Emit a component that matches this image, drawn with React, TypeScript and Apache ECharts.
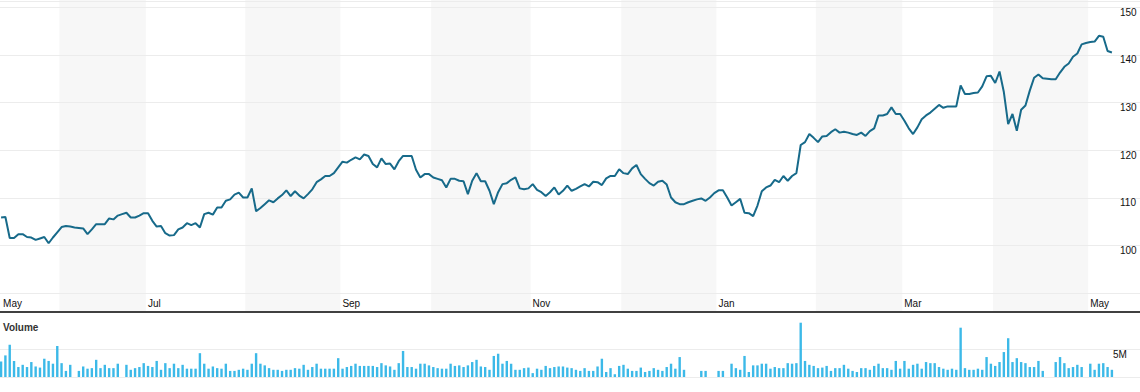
import React, { useEffect, useRef } from "react";
import * as echarts from "echarts";

// Daily closing prices (one value per trading day)
const prices: number[] = [
  105.9, 106.0, 101.6, 101.6, 102.4, 102.4, 101.8, 101.7, 101.2, 101.5,
  101.8, 100.5, 101.7, 102.8, 103.9, 104.1, 104.0, 103.8, 103.7, 103.6,
  102.4, 103.4, 104.5, 104.5, 104.5, 105.7, 105.5, 106.3, 106.6, 106.9,
  105.9, 105.9, 106.3, 106.8, 106.8, 105.2, 104.0, 104.1, 102.6, 102.1,
  102.2, 103.4, 103.8, 104.7, 104.3, 104.7, 103.8, 106.6, 106.9, 106.5,
  108.0, 108.0, 109.4, 109.7, 110.7, 111.1, 110.1, 110.1, 112.0, 107.2,
  107.9, 108.7, 109.5, 109.1, 109.9, 110.6, 111.6, 110.4, 111.4, 110.5,
  109.9, 110.8, 111.8, 113.3, 113.9, 114.6, 114.6, 115.2, 116.4, 117.6,
  117.4, 118.0, 118.5, 118.1, 119.1, 118.8, 117.1, 116.4, 118.3, 117.1,
  117.2, 116.0, 117.7, 118.8, 118.8, 118.8, 115.9, 114.3, 115.0, 115.0,
  114.3, 114.0, 113.7, 112.2, 114.0, 114.0, 113.6, 113.5, 110.8, 113.6,
  115.2, 113.5, 113.5, 111.5, 108.7, 111.2, 112.9, 113.1, 113.8, 114.3,
  112.0, 111.8, 112.0, 112.9, 111.7, 111.2, 110.4, 111.2, 112.2, 110.7,
  111.5, 112.6, 111.5, 111.9, 112.4, 112.9, 112.4, 113.4, 113.3, 112.7,
  114.1, 114.6, 114.6, 116.0, 115.2, 115.0, 116.2, 116.9, 115.0, 114.0,
  113.1, 112.6, 113.4, 113.6, 112.8, 110.1, 109.1, 108.7, 108.7, 109.1,
  109.4, 109.7, 109.9, 109.4, 110.1, 111.0, 111.6, 111.6, 110.1, 108.4,
  109.1, 109.8, 106.9, 106.8, 106.2, 108.4, 111.4, 112.2, 112.6, 113.8,
  113.3, 114.6, 113.6, 114.6, 115.2, 121.1, 121.7, 123.4, 122.6, 121.7,
  122.9, 123.0, 123.8, 124.4, 123.7, 123.9, 123.7, 123.4, 123.2, 123.7,
  123.0, 124.0, 124.6, 127.3, 127.3, 127.6, 129.0, 127.6, 127.6, 126.2,
  124.6, 123.4, 124.8, 126.5, 127.3, 127.9, 128.7, 129.5, 128.9, 129.2,
  129.2, 129.2, 133.6, 131.8, 131.8, 132.0, 132.1, 133.4, 135.5, 135.6,
  134.1, 136.5, 132.2, 125.5, 127.6, 124.1, 128.5, 129.4, 132.5, 135.2,
  135.9, 135.1, 135.0, 134.9, 134.9, 136.3, 137.5, 138.2, 139.6, 140.3,
  142.2, 142.5, 142.7, 142.8, 144.0, 143.8, 140.8, 140.5,
];

// Daily volume in millions (null = no volume reported)
const volumes: (number | null)[] = [
  2.8, 3.9, 5.8, 2.9, 1.8, 2.2, 1.8, 2.7, 1.9, 1.7,
  3.3, 2.9, 2.4, 5.6, 2.5, 1.1, 2.2, null, 1.1, 1.9,
  1.5, 1.6, 3.1, 1.6, 2.2, 1.6, 1.6, 2.4, null, 2.2,
  1.3, 1.6, 1.8, 2.5, 2.0, 1.8, 2.9, 1.3, 2.5, 1.6,
  2.4, 1.6, 2.2, 1.5, 1.5, 1.5, 4.3, 2.4, 1.5, 1.9,
  1.6, 1.5, 2.4, 1.1, 1.1, 1.3, 1.5, 1.3, 2.4, 4.3,
  2.4, 2.1, 1.6, 1.3, 1.3, 1.1, 1.3, 1.3, 1.6, 1.5,
  2.2, 1.3, 1.8, 2.4, 1.5, 1.5, 1.5, 1.5, 3.4, 1.5,
  1.8, 2.0, 2.4, 2.0, 2.0, 2.0, 2.0, 1.8, 2.5, 2.1,
  1.9, 1.3, 2.5, 4.7, 1.8, 1.8, 1.5, 2.4, 2.4, 2.1,
  1.8, 1.6, 1.5, 1.5, 2.4, 2.0, 2.1, 1.8, 2.1, 2.7,
  3.1, 1.9, 1.8, 1.3, 3.8, 4.2, 2.4, 2.9, 2.4, 1.3,
  1.3, 1.6, 1.7, 0.7, 1.5, 1.3, 2.0, 1.6, 1.8, 1.9,
  1.9, 1.7, 1.6, 1.3, 1.1, 1.6, 1.1, 1.1, 1.9, 3.3,
  0.9, 1.6, 0.5, 2.0, 2.2, 1.5, 1.1, 1.1, 1.7, 0.9,
  1.1, 1.6, 1.3, 1.1, 1.8, 2.4, 1.5, 3.6, 1.3, null,
  null, null, 1.1, 1.1, null, null, 1.1, 1.1, null, 2.4,
  1.6, 1.3, 3.8, 0.9, 2.1, 2.1, 2.4, 2.4, 1.5, 1.8,
  1.6, 1.6, 2.5, 2.4, 2.5, 9.8, 2.9, 2.2, 2.0, 1.6,
  1.7, 2.0, 1.1, 1.6, 1.6, 2.2, 1.5, 1.1, 0.9, 1.6,
  1.6, 1.3, 2.0, 2.4, 1.6, 1.6, 1.3, 2.9, 1.5, 2.9,
  1.5, 2.2, 2.4, 1.5, 2.7, 2.5, 2.5, 1.8, 1.5, 1.3,
  1.5, 1.3, 8.9, 1.6, 1.3, 1.3, 1.5, 1.3, 3.6, 2.4,
  2.0, 2.7, 4.5, 7.0, 2.7, 3.4, 2.7, 2.5, 1.8, 1.8,
  2.9, 1.1, null, null, 2.7, 3.6, 2.5, 1.6, 1.8, 2.2,
  1.8, null, 2.4, 1.3, 2.4, 2.5, 1.8, 1.3,
];

// Month starts (index of first trading day of each month)
const firstMonthName = "May";
const monthNames = ["Jun", "Jul", "Aug", "Sep", "Oct", "Nov", "Dec", "Jan", "Feb", "Mar", "Apr", "May"];
const monthStarts = [14, 34, 57, 79, 100, 123, 144, 166, 189, 209, 230, 252];

// Axis settings
const priceMin = 90;
const priceMax = 151.3;
const priceStep = 10;
const volumeMax = 10;
const volumeStep = 5;
const volumeLabelValue = 5;

const FONT = "'Liberation Sans', Arial, sans-serif";

export default function App() {
  const ref = useRef<HTMLDivElement>(null);

  useEffect(() => {
    if (!ref.current) return;
    const chart = echarts.init(ref.current, null, { renderer: "svg" });

    const boundaries = monthStarts.map((s) => s - 0.5);
    // Labels: first data point, then every other month (Jul, Sep, ...)
    const labelVals: number[] = [0];
    const labelNames: string[] = [firstMonthName];
    monthNames.forEach((n, k) => {
      if (k % 2 === 1) {
        labelVals.push(boundaries[k]);
        labelNames.push(n);
      }
    });
    // Shaded bands: Jun, Aug, Oct, Dec, Feb, Apr
    const bands: number[][] = [];
    for (let k = 0; k + 1 < boundaries.length; k += 2) {
      bands.push([boundaries[k], boundaries[k + 1]]);
    }

    const xMin = -0.25;
    const xMax = 263.5;

    const option: any = {
      animation: false,
      title: {
        text: "Volume",
        left: 3,
        top: 322,
        padding: 0,
        textStyle: { fontSize: 10, fontWeight: "bold", color: "#333", fontFamily: FONT },
      },
      grid: [
        { left: 0, right: 0, top: 1, height: 292.3 },
        { left: 0, right: 0, top: 321.6, height: 55.4 },
        { left: 0, right: 0, top: 0, height: 311 },
      ],
      xAxis: [
        {
          type: "value",
          gridIndex: 0,
          min: xMin,
          max: xMax,
          axisLine: { show: false },
          axisTick: { show: false },
          splitLine: { show: false },
          axisLabel: {
            customValues: labelVals,
            formatter: (v: number) => {
              const idx = labelVals.findIndex((x) => Math.abs(x - v) < 0.01);
              return idx >= 0 ? labelNames[idx] : "";
            },
            align: "left",
            margin: 5,
            padding: [0, 0, 0, 2],
            fontSize: 10,
            color: "#111",
            fontFamily: FONT,
          },
        },
        { type: "value", gridIndex: 1, min: xMin, max: xMax, show: false },
        { type: "value", gridIndex: 2, min: xMin, max: xMax, show: false },
      ],
      yAxis: [
        {
          type: "value",
          gridIndex: 0,
          position: "right",
          min: priceMin,
          max: priceMax,
          interval: priceStep,
          z: 1,
          axisLine: { show: false },
          axisTick: { show: false },
          splitLine: { show: true, lineStyle: { color: "#ececec", width: 1 } },
          axisLabel: {
            formatter: (v: number) =>
              Math.abs(v % priceStep) < 0.001 && v > priceMin ? String(Math.round(v)) : "",
            margin: -20,
            align: "left",
            verticalAlign: "top",
            fontSize: 10,
            color: "#111",
            fontFamily: FONT,
          },
        },
        {
          type: "value",
          gridIndex: 1,
          position: "right",
          min: 0,
          max: volumeMax,
          interval: volumeStep,
          z: 1,
          axisLine: { show: false },
          axisTick: { show: false },
          splitLine: { show: true, showMaxLine: false, lineStyle: { color: "#ececec", width: 1 } },
          axisLabel: {
            formatter: (v: number) => (v === volumeLabelValue ? v + "M" : ""),
            margin: -27,
            align: "left",
            verticalAlign: "top",
            fontSize: 10,
            color: "#111",
            fontFamily: FONT,
          },
        },
        { type: "value", gridIndex: 2, min: 0, max: 1, show: false },
      ],
      graphic: [
        {
          type: "line",
          shape: { x1: 0, y1: 312, x2: 1140, y2: 312 },
          style: { stroke: "#000", lineWidth: 1.5 },
          z: 10,
        },
      ],
      series: [
        {
          type: "custom",
          xAxisIndex: 2,
          yAxisIndex: 2,
          z: 0,
          silent: true,
          data: bands,
          renderItem: (_p: any, api: any) => {
            const a = api.coord([api.value(0), 1]);
            const b = api.coord([api.value(1), 0]);
            return {
              type: "rect",
              shape: { x: a[0], y: a[1], width: b[0] - a[0], height: b[1] - a[1] },
              style: { fill: "#f7f7f7" },
            };
          },
        },
        {
          type: "line",
          xAxisIndex: 0,
          yAxisIndex: 0,
          z: 3,
          data: prices.map((p, i) => [i, p]),
          symbol: "none",
          lineStyle: { color: "#176a8a", width: 2 },
          silent: true,
        },
        {
          type: "bar",
          xAxisIndex: 1,
          yAxisIndex: 1,
          z: 2,
          data: volumes.map((v, i) => [i, v]),
          barWidth: 2.4,
          itemStyle: { color: "#3cb9e8" },
          silent: true,
        },
      ],
    };

    chart.setOption(option);
    return () => chart.dispose();
  }, []);

  return (
    <div
      ref={ref}
      style={{ position: "fixed", left: 0, top: 0, width: 1140, height: 392, background: "#fff" }}
    />
  );
}
